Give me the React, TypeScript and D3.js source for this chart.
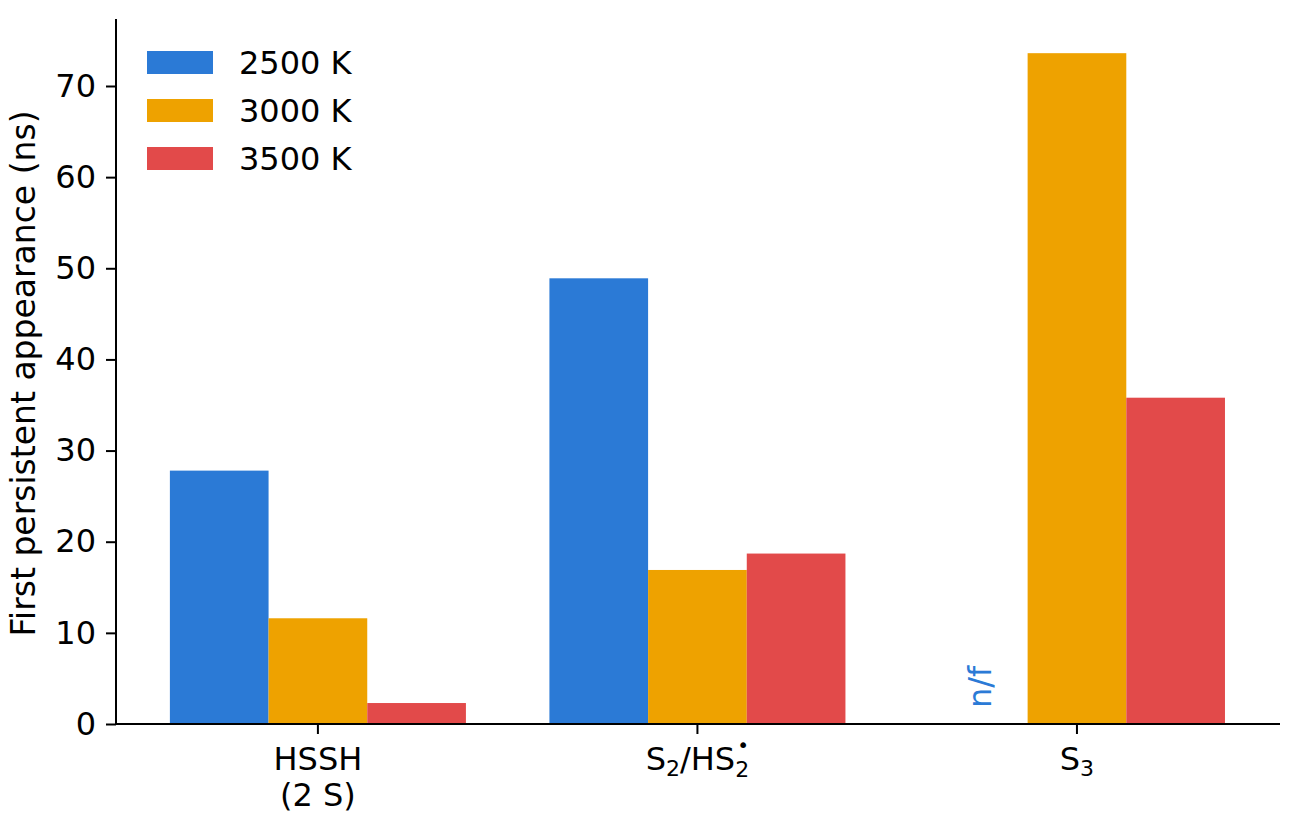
import { useEffect, useRef } from "react";
import { axisLeft, scaleLinear, select } from "d3";

const categories = ["HSSH", "S2/HS2", "S3"];
const series = ["2500 K", "3000 K", "3500 K"];
const colors = ["#2b7ad6", "#eea200", "#e24a4a"];
// null = not formed (n/f)
const values2500: (number | null)[] = [27.8, 48.9, null];
const values3000: (number | null)[] = [11.6, 16.9, 73.6];
const values3500: (number | null)[] = [2.3, 18.7, 35.8];
const yTicks = [0, 10, 20, 30, 40, 50, 60, 70];

const allValues = [values2500, values3000, values3500];

const W = 1297;
const H = 823;
const margin = { left: 116, right: 17, top: 19, bottom: 99 };
const FONT = "DejaVu Sans, sans-serif";
const FS = 32;
const barW = 0.26;

function AxisLeft({ scale }: { scale: any }) {
    const ref = useRef<SVGGElement>(null);
    useEffect(() => {
        if (ref.current) {
            const g = select(ref.current);
            g.call(axisLeft(scale).tickValues(yTicks).tickSize(10).tickPadding(10));
            g.select(".domain").remove();
            g.selectAll(".tick line").attr("stroke", "#000").attr("stroke-width", 2);
            g.selectAll(".tick text")
                .attr("font-family", FONT)
                .attr("font-size", FS)
                .attr("fill", "#000");
        }
    }, [scale]);
    return <g ref={ref} transform={`translate(${margin.left},0)`} />;
}

function CategoryLabel({ i, x }: { i: number; x: number }) {
    const y = 770;
    if (i === 0) {
        return (
            <text x={x} y={y} textAnchor="middle" fontSize={FS} fontFamily={FONT}>
                <tspan x={x}>HSSH</tspan>
                <tspan x={x} dy={36}>(2 S)</tspan>
            </text>
        );
    }
    if (i === 1) {
        return (
            <text x={x} y={y} textAnchor="middle" fontSize={FS} fontFamily={FONT}>
                <tspan>S</tspan>
                <tspan fontSize={22} dy={6}>2</tspan>
                <tspan dy={-6}>/HS</tspan>
                <tspan fontSize={22} dy={7}>2</tspan>
                <tspan fontSize={20} dx={-12} dy={-25}>•</tspan>
                <tspan dy={18}> </tspan>
            </text>
        );
    }
    return (
        <text x={x} y={y} textAnchor="middle" fontSize={FS} fontFamily={FONT}>
            <tspan>S</tspan>
            <tspan fontSize={22} dy={6}>3</tspan>
        </text>
    );
}

export default function App() {
    const xs = scaleLinear().domain([-0.532, 2.535]).range([margin.left, W - margin.right]);
    const ys = scaleLinear().domain([0, 77.35]).range([H - margin.bottom, margin.top]);
    const y0 = ys(0);

    return (
        <svg width={W} height={H} style={{ position: "absolute", left: 0, top: 0, background: "#fff" }}>
            {allValues.map((vals, j) =>
                vals.map((v, i) => {
                    const x = xs(i + (j - 1) * barW - barW / 2);
                    const w = xs(barW) - xs(0);
                    if (v === null) {
                        const cx = x + w / 2;
                        return (
                            <text
                                key={`nf-${i}-${j}`}
                                transform={`translate(${cx + 13},${y0 - 16}) rotate(-90)`}
                                fontSize={FS}
                                fontFamily={FONT}
                                fill={colors[j]}
                            >
                                n/f
                            </text>
                        );
                    }
                    return (
                        <rect
                            key={`bar-${i}-${j}`}
                            x={x}
                            y={ys(v)}
                            width={w}
                            height={y0 - ys(v)}
                            fill={colors[j]}
                        />
                    );
                })
            )}
            <AxisLeft scale={ys} />
            <line x1={margin.left} x2={margin.left} y1={margin.top} y2={y0} stroke="#000" strokeWidth={2} />
            <line x1={margin.left} x2={W - margin.right} y1={y0} y2={y0} stroke="#000" strokeWidth={2} />
            {categories.map((c, i) => (
                <g key={c}>
                    <line x1={xs(i)} x2={xs(i)} y1={y0} y2={y0 + 10} stroke="#000" strokeWidth={2} />
                    <CategoryLabel i={i} x={xs(i)} />
                </g>
            ))}
            <text
                transform={`translate(35,${(margin.top + y0) / 2 + 2}) rotate(-90)`}
                textAnchor="middle"
                fontSize={33}
                fontFamily={FONT}
            >
                First persistent appearance (ns)
            </text>
            {series.map((s, j) => (
                <g key={s} transform={`translate(147,${51 + j * 48})`}>
                    <rect width={66} height={23} fill={colors[j]} />
                    <text x={92} y={23} fontSize={FS} fontFamily={FONT}>
                        {s}
                    </text>
                </g>
            ))}
        </svg>
    );
}
